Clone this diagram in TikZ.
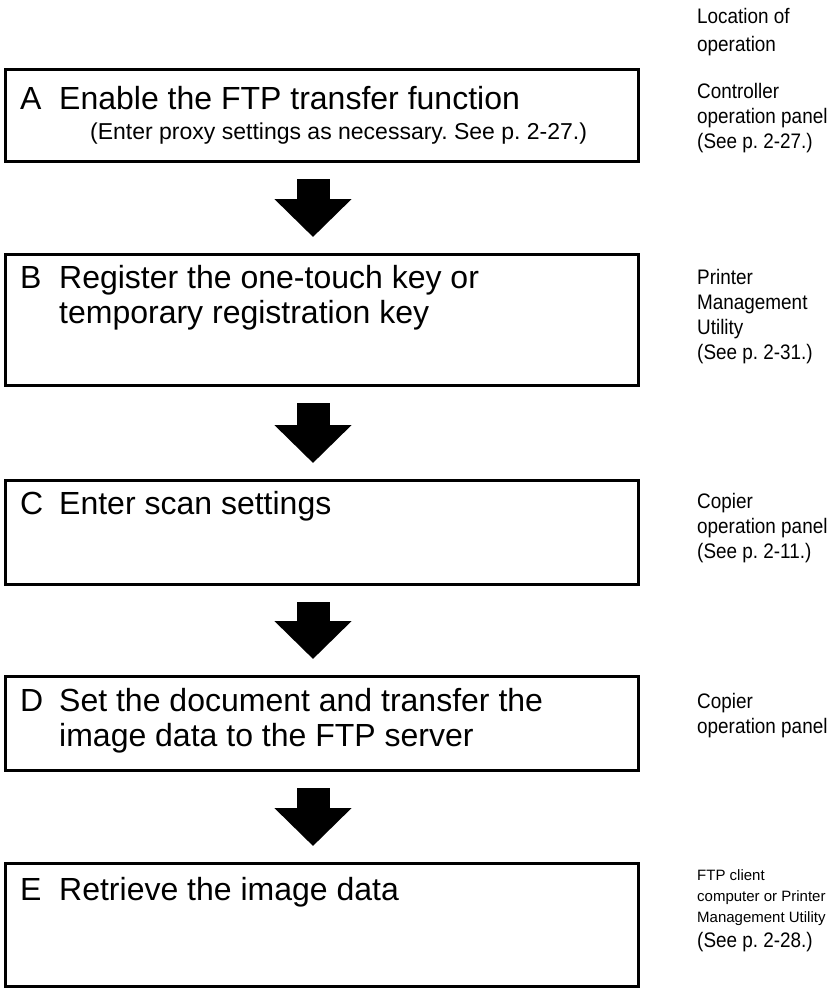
\documentclass[tikz,border=0pt]{standalone}
\usepackage{fontspec}
\setmainfont{Liberation Sans}
\newfontfamily\narrowsans[FakeStretch=0.9]{Liberation Sans}
\usetikzlibrary{arrows.meta}
\begin{document}
\frenchspacing
\begin{tikzpicture}[x=1pt,y=-1pt,
  stepbox/.style={draw, line width=3pt, rectangle, inner sep=0pt, anchor=north west, minimum width=633pt},
  big/.style={font=\fontsize{32}{36}\selectfont\frenchspacing, anchor=base west, inner sep=0pt},
  note/.style={font=\fontsize{23}{27}\selectfont\frenchspacing, anchor=base west, inner sep=0pt},
  loc/.style={font=\narrowsans\fontsize{21}{25}\selectfont\frenchspacing, anchor=base west, inner sep=0pt},
  locsmall/.style={font=\fontsize{15}{19}\selectfont\frenchspacing, anchor=base west, inner sep=0pt},
  fat/.style={line width=33pt, -{Triangle[width=75pt,length=38pt]}, shorten <=16pt, shorten >=16pt}
]
\useasboundingbox (0,0) rectangle (827,988);

% boxes
\node[stepbox, minimum height=92pt] (A) at (4,68) {};
\node[stepbox, minimum height=131pt] (B) at (4,253) {};
\node[stepbox, minimum height=104pt] (C) at (4,479) {};
\node[stepbox, minimum height=94pt] (D) at (4,675) {};
\node[stepbox, minimum height=123pt] (E) at (4,862) {};

% arrows
\draw[fat] ([xshift=-9pt]A.south) -- ([xshift=-9pt]B.north);
\draw[fat] ([xshift=-9pt]B.south) -- ([xshift=-9pt]C.north);
\draw[fat] ([xshift=-9pt]C.south) -- ([xshift=-9pt]D.north);
\draw[fat] ([xshift=-9pt]D.south) -- ([xshift=-9pt]E.north);

% header
\node[loc] (h1) at (697,23) {Location of};
\node[loc] (h2) at (697,51) {operation};

% A
\node[big] (Al) at (20,109) {A};
\node[big] (At) at (59,109) {Enable the FTP transfer function};
\node[note] (An) at (90,139) {(Enter proxy settings as necessary. See p. 2-27.)};
\node[loc] (Ar1) at (697,98) {Controller};
\node[loc] (Ar2) at (697,123) {operation panel};
\node[loc] (Ar3) at (697,148) {(See p. 2-27.)};

% B
\node[big] (Bl) at (20,288) {B};
\node[big] (Bt1) at (59,288) {Register the one-touch key or};
\node[big] (Bt2) at (59,323) {temporary registration key};
\node[loc] (Br1) at (697,284) {Printer};
\node[loc] (Br2) at (697,309) {Management};
\node[loc] (Br3) at (697,334) {Utility};
\node[loc] (Br4) at (697,359) {(See p. 2-31.)};

% C
\node[big] (Cl) at (20,514) {C};
\node[big] (Ct) at (59,514) {Enter scan settings};
\node[loc] (Cr1) at (697,508) {Copier};
\node[loc] (Cr2) at (697,533) {operation panel};
\node[loc] (Cr3) at (697,558) {(See p. 2-11.)};

% D
\node[big] (Dl) at (20,711) {D};
\node[big] (Dt1) at (59,711) {Set the document and transfer the};
\node[big] (Dt2) at (59,746) {image data to the FTP server};
\node[loc] (Dr1) at (697,708) {Copier};
\node[loc] (Dr2) at (697,733) {operation panel};

% E
\node[big] (El) at (20,900) {E};
\node[big] (Et) at (59,900) {Retrieve the image data};
\node[locsmall] (Er1) at (697,880) {FTP client};
\node[locsmall] (Er2) at (697,901) {computer or Printer};
\node[locsmall] (Er3) at (697,922) {Management Utility};
\node[loc] (Er4) at (697,947) {(See p. 2-28.)};
\end{tikzpicture}
\end{document}
